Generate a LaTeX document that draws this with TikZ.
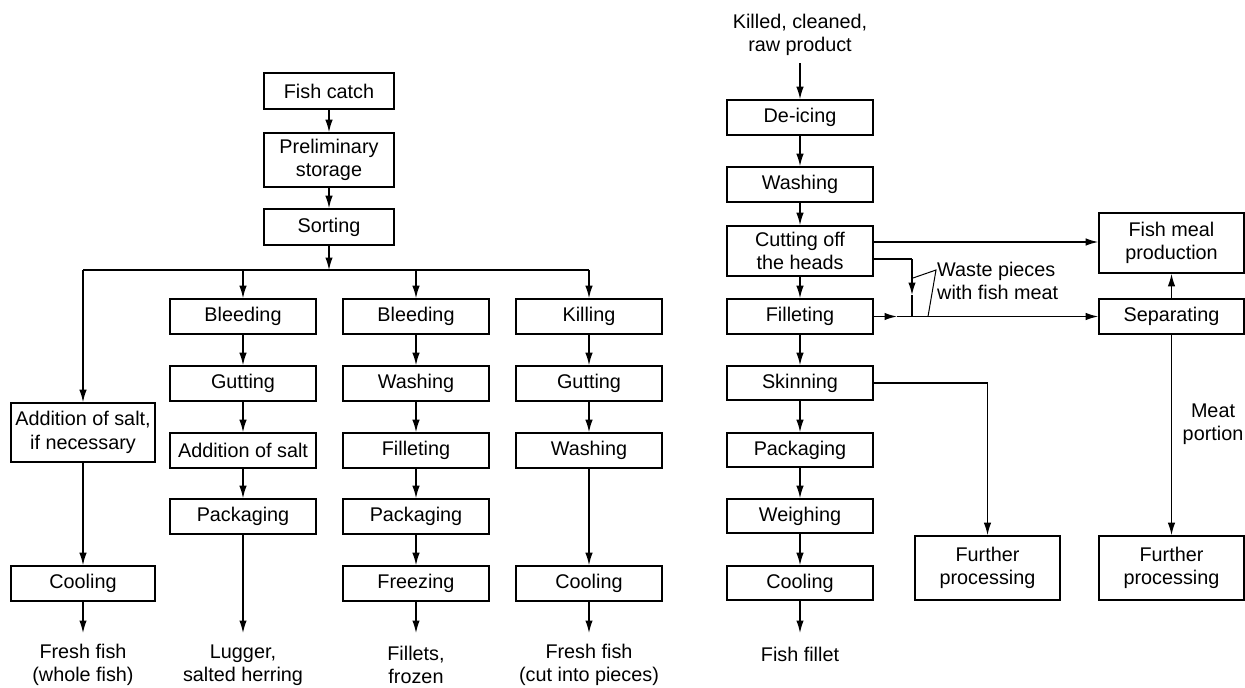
\documentclass[tikz,border=0pt]{standalone}
\usepackage{fontspec}
\setmainfont{Liberation Sans}
\usetikzlibrary{arrows.meta}
\begin{document}
\begin{tikzpicture}[x=1pt,y=-1pt,
  every node/.style={font=\fontsize{19.8}{23.5}\selectfont},
  box/.style={draw, line width=1.6pt, inner sep=0pt, align=center},
  sz/.style 2 args={minimum width=#1, minimum height=#2},
  lbl/.style={inner sep=0pt, align=center},
  arr/.style={line width=1.4pt, -{Latex[length=12.5pt,width=7.5pt]}},
  ln/.style={line width=1.4pt},
  leader/.style={line width=1pt}]
\useasboundingbox (0,0) rectangle (1245,688);

% ---------------- left diagram ----------------
\node[box,sz={130pt}{36pt}] (fc) at (329,91) {Fish catch};
\node[box,sz={130pt}{54pt}] (ps) at (329,160) {Preliminary\\storage};
\node[box,sz={130pt}{36pt}] (so) at (329,227) {Sorting};
\coordinate (bus) at (329,270);
\coordinate (b0) at (83,270);
\coordinate (b1) at (243,270);
\coordinate (b2) at (416,270);
\coordinate (b3) at (589,270);

% column 0
\node[box,sz={144pt}{59pt}] (a0) at (83,432.5) {Addition of salt,\\if necessary};
\node[box,sz={144pt}{35pt}] (k0) at (83,583.5) {Cooling};
\coordinate (e0) at (83,633);
\node[lbl] (o0) at (83,665) {Fresh fish\\(whole fish)};

% column 1
\node[box,sz={146pt}{35pt}] (c1a) at (243,316.5) {Bleeding};
\node[box,sz={146pt}{35pt}] (c1b) at (243,383.5) {Gutting};
\node[box,sz={146pt}{35pt}] (c1c) at (243,450.5) {Addition of salt};
\node[box,sz={146pt}{35pt}] (c1d) at (243,516.5) {Packaging};
\coordinate (e1) at (243,633);
\node[lbl] (o1) at (243,665) {Lugger,\\salted herring};

% column 2
\node[box,sz={146pt}{35pt}] (c2a) at (416,316.5) {Bleeding};
\node[box,sz={146pt}{35pt}] (c2b) at (416,383.5) {Washing};
\node[box,sz={146pt}{35pt}] (c2c) at (416,450.5) {Filleting};
\node[box,sz={146pt}{35pt}] (c2d) at (416,516.5) {Packaging};
\node[box,sz={146pt}{35pt}] (c2e) at (416,583.5) {Freezing};
\coordinate (e2) at (416,633);
\node[lbl] (o2) at (416,665) {Fillets,\\frozen};

% column 3
\node[box,sz={146pt}{35pt}] (c3a) at (589,316.5) {Killing};
\node[box,sz={146pt}{35pt}] (c3b) at (589,383.5) {Gutting};
\node[box,sz={146pt}{35pt}] (c3c) at (589,450.5) {Washing};
\node[box,sz={146pt}{35pt}] (c3d) at (589,583.5) {Cooling};
\coordinate (e3) at (589,633);
\node[lbl] (o3) at (589,665) {Fresh fish\\(cut into pieces)};

\draw[arr] (fc) -- (ps);
\draw[arr] (ps) -- (so);
\draw[arr] (so) -- (bus);
\draw[ln] (b0) -- (b3);
\draw[arr] (b0) -- (a0);
\draw[arr] (b1) -- (c1a);
\draw[arr] (b2) -- (c2a);
\draw[arr] (b3) -- (c3a);
\draw[arr] (a0) -- (k0);
\draw[arr] (k0) -- (e0);
\draw[arr] (c1a) -- (c1b);
\draw[arr] (c1b) -- (c1c);
\draw[arr] (c1c) -- (c1d);
\draw[arr] (c1d) -- (e1);
\draw[arr] (c2a) -- (c2b);
\draw[arr] (c2b) -- (c2c);
\draw[arr] (c2c) -- (c2d);
\draw[arr] (c2d) -- (c2e);
\draw[arr] (c2e) -- (e2);
\draw[arr] (c3a) -- (c3b);
\draw[arr] (c3b) -- (c3c);
\draw[arr] (c3c) -- (c3d);
\draw[arr] (c3d) -- (e3);

% ---------------- right diagram ----------------
\node[lbl] (kc) at (800,35) {Killed, cleaned,\\raw product};
\coordinate (kcs) at (800,63);
\node[box,sz={146pt}{35pt}] (di) at (800,117.5) {De-icing};
\node[box,sz={146pt}{35pt}] (wa) at (800,184.5) {Washing};
\node[box,sz={146pt}{50pt}] (cu) at (800,251) {Cutting off\\the heads};
\node[box,sz={146pt}{35pt}] (fi) at (800,316.5) {Filleting};
\node[box,sz={146pt}{34pt}] (sk) at (800,383) {Skinning};
\node[box,sz={146pt}{34pt}] (pa) at (800,450) {Packaging};
\node[box,sz={146pt}{34pt}] (we) at (800,516) {Weighing};
\node[box,sz={146pt}{34pt}] (co) at (800,583) {Cooling};
\coordinate (er) at (800,633);
\node[lbl] (ff) at (800,654) {Fish fillet};

\node[box,sz={145pt}{60pt}] (fm) at (1171.5,243) {Fish meal\\production};
\node[box,sz={145pt}{35pt}] (se) at (1171.5,316.5) {Separating};
\node[box,sz={145pt}{64pt}] (fp1) at (987.5,568) {Further\\processing};
\node[box,sz={145pt}{64pt}] (fp2) at (1171.5,568) {Further\\processing};
\node[lbl] (mp) at (1213,424) {Meat\\portion};
\node[lbl, anchor=west, align=left] (wp) at (937,281) {Waste pieces\\with fish meat};

\draw[arr] (kcs) -- (di);
\draw[arr] (di) -- (wa);
\draw[arr] (wa) -- (cu);
\draw[arr] (cu) -- (fi);
\draw[arr] (fi) -- (sk);
\draw[arr] (sk) -- (pa);
\draw[arr] (pa) -- (we);
\draw[arr] (we) -- (co);
\draw[arr] (co) -- (er);

\draw[arr] (cu.east |- 0,242) -- (fm.west |- 0,242);
\coordinate (w1) at (912,259);
\coordinate (w2) at (912,295);
\coordinate (w3) at (912,316.5);
\draw[ln] (cu.east |- w1) -- (w1);
\draw[arr] (w1) -- (w2);
\draw[ln] (w2) -- (w3);
\coordinate (m1) at (897,316.5);
\draw[arr] (fi.east) -- (m1);
\draw[arr] (m1) -- (se.west);
\draw[arr] (se) -- (fm);
\draw[arr] (se) -- (fp2);
\draw[arr] (sk.east) -| (fp1.north);

\coordinate (lp) at (936,270);
\coordinate (l1) at (913,278);
\coordinate (l2) at (928,316.5);
\draw[leader] (l1) -- (lp) -- (l2);
\end{tikzpicture}
\end{document}
